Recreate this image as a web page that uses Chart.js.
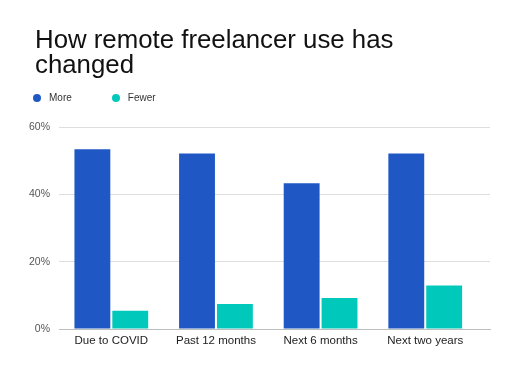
<!DOCTYPE html>
<html>
<head>
<meta charset="utf-8">
<script src="https://cdn.jsdelivr.net/npm/chart.js@4"></script>
<style>
  html, body { margin: 0; padding: 0; background: #fff; }
  #wrap { position: relative; width: 512px; height: 366px; overflow: hidden; font-family: "Liberation Sans", Arial, sans-serif; }
  #title { position: absolute; left: 35px; top: 27px; font-size: 25.8px; line-height: 25px; color: #111; }
  #legend { position: absolute; left: 33px; top: 92px; font-size: 10px; line-height: 12px; color: #333; display: flex; }
  .item { display: flex; align-items: center; margin-right: 40px; }
  .dot { width: 8px; height: 8px; border-radius: 50%; margin-right: 8px; }
  canvas { position: absolute; left: 0; top: 0; }
</style>
</head>
<body>
<div id="wrap">
  <canvas id="c" width="512" height="366"></canvas>
  <div id="title">How remote freelancer use has<br>changed</div>
  <div id="legend"></div>
</div>
<script>
const categories = ["Due to COVID", "Past 12 months", "Next 6 months", "Next two years"];
const seriesNames = ["More", "Fewer"];
const moreValues = [53.4, 52.1, 43.3, 52.1];
const fewerValues = [5.4, 7.4, 9.2, 12.9];
const yTicks = [0, 20, 40, 60];
const colors = ["#1f58c4", "#00c9bc"];

const legend = document.getElementById('legend');
seriesNames.forEach((n, i) => {
  const it = document.createElement('div'); it.className = 'item';
  const d = document.createElement('span'); d.className = 'dot'; d.style.background = colors[i];
  const t = document.createElement('span'); t.textContent = n;
  it.appendChild(d); it.appendChild(t); legend.appendChild(it);
});

const toPoints = vals => vals.map((v, i) => ({ x: i, y: v }));

new Chart(document.getElementById('c'), {
  type: 'bar',
  data: {
    datasets: [
      { label: seriesNames[0], data: toPoints(moreValues), backgroundColor: colors[0] },
      { label: seriesNames[1], data: toPoints(fewerValues), backgroundColor: colors[1] }
    ]
  },
  options: {
    responsive: false,
    animation: false,
    events: [],
    categoryPercentage: 0.724,
    barPercentage: 0.947,
    layout: { padding: { top: 127, right: 22, bottom: 0, left: 0 } },
    plugins: { legend: { display: false }, title: { display: false }, tooltip: { enabled: false } },
    scales: {
      x: {
        type: 'linear',
        offset: false,
        min: -0.5,
        max: 3.619,
        afterBuildTicks: s => { s.ticks = categories.map((c, i) => ({ value: i })); },
        grid: { drawOnChartArea: false, drawTicks: false },
        border: { display: true, color: '#bdbfbc', width: 1 },
        ticks: { color: '#222', font: { family: 'Liberation Sans', size: 11.5 }, padding: 5, maxRotation: 0, autoSkip: false,
                 callback: v => categories[v] },
        afterFit: s => { s.height = 37; }
      },
      y: {
        min: 0, max: 60,
        afterBuildTicks: s => { s.ticks = yTicks.map(v => ({ value: v })); },
        grid: { color: '#dcdfdb', drawTicks: false },
        border: { display: false },
        ticks: { color: '#555', font: { family: 'Liberation Sans', size: 10.5 }, padding: 9, callback: v => v + '%' },
        afterFit: s => { s.width = 59; }
      }
    }
  }
});
</script>
</body>
</html>
